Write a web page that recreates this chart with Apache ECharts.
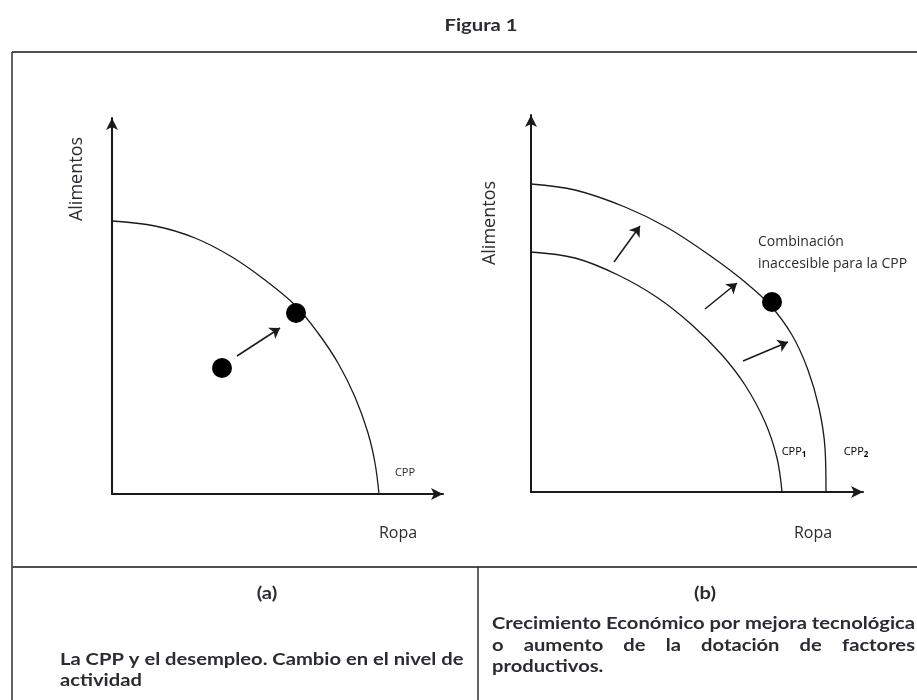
<!DOCTYPE html>
<html>
<head>
<meta charset="utf-8">
<script src="https://cdn.jsdelivr.net/npm/echarts@6/dist/echarts.min.js"></script>
<style>
  html, body { margin: 0; padding: 0; background: #fff; }
  #main { width: 917px; height: 700px; }
</style>
</head>
<body>
<div id="main"></div>
<script>
// values (axis units = panel pixels from the origin)
var cppA = [[0, 273], [43, 268], [83, 256], [120, 237], [153, 214], [183, 189], [206, 161], [226, 131], [243, 97], [256, 61], [263, 31], [267, 0]];
var cpp1 = [[0, 240], [44, 234], [87, 217], [127, 194], [161, 167], [191, 137], [214, 107], [234, 70], [246, 34], [251, 0]];
var cpp2 = [[0, 308], [44, 302], [94, 285], [137, 264], [181, 235], [214, 210], [239, 187], [261, 157], [277, 122], [288, 84], [294, 44], [295, 0]];
var pointsA = [[110, 126], [184, 181]];
var pointsB = [[241, 190]];
var arrowsA = [[[125, 138], [168, 166]]];
var arrowsB = [[[83, 230], [109, 266]], [[174, 183], [206, 209]], [[212, 131], [257, 150]]];

setTimeout(function () {
  var chartDom = document.getElementById('main');
  var myChart = echarts.init(chartDom);

  var ink = '#1a1a1a';
  var txt = '#2b2b33';

  // captions: Lato bold, fitted horizontally to the reference line width
  var ctx = document.createElement('canvas').getContext('2d');
  var cap = 'bold 17.5px "Lato"';
  ctx.font = cap;
  var sx = 423 / ctx.measureText('Crecimiento Económico por mejora tecnológica').width;
  var titleFont = 'bold 17px "Lato"';
  ctx.font = titleFont;
  var tsx = 73 / ctx.measureText('Figura 1').width;
  ctx.font = cap;

  function capText(t, x, y, align) {
    return { type: 'text', x: x, y: y, scaleX: sx,
      style: { text: t, font: cap, fill: txt, align: align || 'left', verticalAlign: 'middle' } };
  }

  var justWords = ['o', 'aumento', 'de', 'la', 'dotación', 'de', 'factores'];
  var x0 = 492, x1 = 915;
  var total = 0;
  justWords.forEach(function (w) { total += ctx.measureText(w).width * sx; });
  var gap = (x1 - x0 - total) / (justWords.length - 1);
  var justEls = [];
  var cx = x0;
  justWords.forEach(function (w) {
    justEls.push(capText(w, cx, 645));
    cx += ctx.measureText(w).width * sx + gap;
  });

  function axis(max) {
    return {
      type: 'value', min: 0, max: max,
      axisLine: { show: true, onZero: false, symbol: ['none', 'arrow'], symbolSize: [9, 12], lineStyle: { color: ink, width: 2 } },
      axisTick: { show: false }, axisLabel: { show: false }, splitLine: { show: false }
    };
  }
  function curve(data, xi) {
    return { type: 'line', data: data, xAxisIndex: xi, yAxisIndex: xi, smooth: 0.35, smoothMonotone: 'none',
      showSymbol: false, silent: true, lineStyle: { color: ink, width: 1.3 } };
  }
  function arrows(data, xi) {
    return { type: 'lines', coordinateSystem: 'cartesian2d', xAxisIndex: xi, yAxisIndex: xi,
      symbol: ['none', 'arrow'], symbolSize: 10,
      data: data.map(function (c) { return { coords: c }; }),
      lineStyle: { color: ink, width: 1.5, opacity: 1 } };
  }
  function dots(data, xi) {
    return { type: 'scatter', data: data, xAxisIndex: xi, yAxisIndex: xi, symbolSize: 20, z: 5,
      itemStyle: { color: '#000', opacity: 1 } };
  }

  var option = {
    animation: false,
    grid: [
      { left: 112, top: 118, width: 331, height: 376 },
      { left: 531, top: 115, width: 332, height: 377 }
    ],
    xAxis: [Object.assign(axis(331), { gridIndex: 0 }), Object.assign(axis(332), { gridIndex: 1 })],
    yAxis: [Object.assign(axis(376), { gridIndex: 0 }), Object.assign(axis(377), { gridIndex: 1 })],
    series: [
      curve(cppA, 0),
      curve(cpp1, 1),
      curve(cpp2, 1),
      arrows(arrowsA, 0),
      arrows(arrowsB, 1),
      dots(pointsA, 0),
      dots(pointsB, 1)
    ],
    graphic: [
      // frame
      { type: 'line', shape: { x1: 12, y1: 52, x2: 917, y2: 52 }, style: { stroke: '#505050', lineWidth: 2 } },
      { type: 'line', shape: { x1: 12, y1: 52, x2: 12, y2: 700 }, style: { stroke: '#303030', lineWidth: 1.5 } },
      { type: 'line', shape: { x1: 12, y1: 567, x2: 917, y2: 567 }, style: { stroke: '#505050', lineWidth: 2 } },
      { type: 'line', shape: { x1: 478, y1: 567, x2: 478, y2: 700 }, style: { stroke: '#303030', lineWidth: 1.5 } },
      // title
      { type: 'text', x: 481, y: 26, scaleX: tsx, style: { text: 'Figura 1', font: titleFont, fill: txt, align: 'center', verticalAlign: 'middle' } },
      // axis names
      { type: 'text', x: 77, y: 179, rotation: Math.PI / 2, style: { text: 'Alimentos', font: '18px "Open Sans"', fill: txt, align: 'center', verticalAlign: 'middle' } },
      { type: 'text', x: 490, y: 223, rotation: Math.PI / 2, style: { text: 'Alimentos', font: '18px "Open Sans"', fill: txt, align: 'center', verticalAlign: 'middle' } },
      { type: 'text', x: 398, y: 533, style: { text: 'Ropa', font: '16px "Open Sans"', fill: txt, align: 'center', verticalAlign: 'middle' } },
      { type: 'text', x: 813, y: 533, style: { text: 'Ropa', font: '16px "Open Sans"', fill: txt, align: 'center', verticalAlign: 'middle' } },
      // curve labels
      { type: 'text', x: 405, y: 473, style: { text: 'CPP', font: '11px "Open Sans"', fill: txt, align: 'center', verticalAlign: 'middle' } },
      { type: 'text', x: 794, y: 452, style: { text: '{a|CPP}{s|1}', align: 'center', verticalAlign: 'middle',
        rich: { a: { fontSize: 11, fontFamily: 'Open Sans', color: txt }, s: { fontSize: 8, fontWeight: 'bold', fontFamily: 'Open Sans', color: txt, padding: [6, 0, 0, 0] } } } },
      { type: 'text', x: 856, y: 452, style: { text: '{a|CPP}{s|2}', align: 'center', verticalAlign: 'middle',
        rich: { a: { fontSize: 11, fontFamily: 'Open Sans', color: txt }, s: { fontSize: 8, fontWeight: 'bold', fontFamily: 'Open Sans', color: txt, padding: [6, 0, 0, 0] } } } },
      { type: 'text', x: 758, y: 242, style: { text: 'Combinación', font: '14px "Open Sans"', fill: txt, verticalAlign: 'middle' } },
      { type: 'text', x: 758, y: 264, style: { text: 'inaccesible para la CPP', font: '14px "Open Sans"', fill: txt, verticalAlign: 'middle' } },
      // captions
      capText('(a)', 267, 593, 'center'),
      capText('(b)', 705, 593, 'center'),
      capText('La CPP y el desempleo. Cambio en el nivel de', 60, 659),
      capText('actividad', 60, 680),
      capText('Crecimiento Económico por mejora tecnológica', 492, 623),
      capText('productivos.', 492, 666)
    ].concat(justEls)
  };

  option && myChart.setOption(option);

  window.onresize = function () {
    myChart.resize();
  };
}, 1);
</script>
</body>
</html>
